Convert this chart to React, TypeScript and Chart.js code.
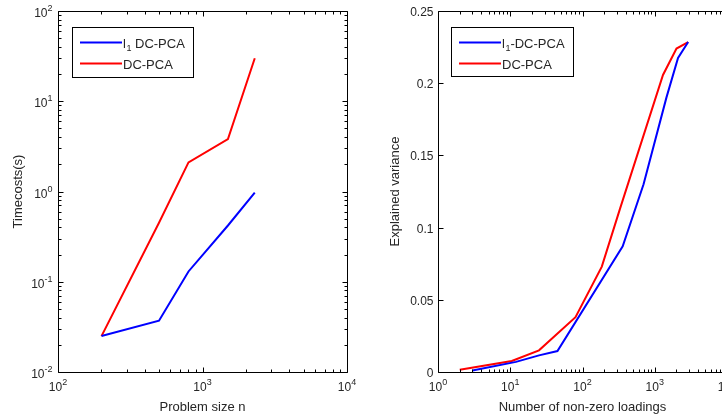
import React, { useEffect, useRef } from "react";
import { Chart, registerables } from "chart.js";
Chart.register(...registerables);

// ---------- data ----------
const problemSize = [200, 500, 800, 1500, 2300];
const l1TimeCost = [0.025, 0.037, 0.13, 0.42, 0.97];
const dcTimeCost = [0.025, 0.45, 2.1, 3.8, 30];

const l1NonZero = [3, 12, 25, 45, 360, 700, 1450, 2100, 2900];
const l1Variance = [0.001, 0.007, 0.0115, 0.0145, 0.087, 0.13, 0.19, 0.2175, 0.2285];
const dcNonZero = [2, 10.5, 25, 80, 185, 330, 1300, 2000, 2900];
const dcVariance = [0.0015, 0.0076, 0.015, 0.038, 0.073, 0.113, 0.2057, 0.224, 0.2285];

const leftXExps = [2, 3, 4];
const leftYExps = [-2, -1, 0, 1, 2];
const rightXExps = [0, 1, 2, 3, 4];
const rightYTicks = [0, 0.05, 0.1, 0.15, 0.2, 0.25];
const rightYLabels = ["0", "0.05", "0.1", "0.15", "0.2", "0.25"];

const leftLegend = [
  { main: "l", sub: "1", rest: " DC-PCA", color: "#0000ff" },
  { main: "DC-PCA", sub: "", rest: "", color: "#ff0000" },
];
const rightLegend = [
  { main: "l", sub: "1", rest: "-DC-PCA", color: "#0000ff" },
  { main: "DC-PCA", sub: "", rest: "", color: "#ff0000" },
];

const FONT = "'Liberation Sans', Arial, sans-serif";
const TICK = `12px ${FONT}`;
const EXP = `9px ${FONT}`;
const LABEL = `13px ${FONT}`;
const TXT = "#262626";

type AxisCfg = {
  xExps: number[];
  yLog: boolean;
  yExps?: number[];
  yTicks?: number[];
  yLabels?: string[];
  xTitle: string;
  yTitle: string;
  yTitleX: number;
  legend: { main: string; sub: string; rest: string; color: string }[];
  legendBox: { x: number; y: number; w: number; h: number };
};

function drawPow(ctx: CanvasRenderingContext2D, exp: number, x: number, baseline: number, align: "center" | "right") {
  const base = "10";
  const e = String(exp);
  ctx.font = TICK;
  const bw = ctx.measureText(base).width;
  ctx.font = EXP;
  const ew = ctx.measureText(e).width;
  const total = bw + ew;
  const left = align === "center" ? x - total / 2 : x - total;
  ctx.textAlign = "left";
  ctx.textBaseline = "alphabetic";
  ctx.font = TICK;
  ctx.fillText(base, left, baseline);
  ctx.font = EXP;
  ctx.fillText(e, left + bw, baseline - 6);
}

function makePlugin(cfg: AxisCfg) {
  return {
    id: "matlabAxes",
    afterDraw(chart: any) {
      const ctx: CanvasRenderingContext2D = chart.ctx;
      const a = chart.chartArea;
      const xs = chart.scales.x;
      const ys = chart.scales.y;
      const L = Math.round(a.left) + 0.5;
      const R = Math.round(a.right) + 0.5;
      const T = Math.round(a.top) + 0.5;
      const B = Math.round(a.bottom) + 0.5;
      ctx.save();
      ctx.fillStyle = TXT;
      ctx.strokeStyle = "#000";
      ctx.lineWidth = 1;
      ctx.beginPath();
      ctx.rect(L, T, R - L, B - T);
      ctx.stroke();

      // x ticks (log)
      ctx.beginPath();
      for (let i = 0; i < cfg.xExps.length; i++) {
        const e = cfg.xExps[i];
        const px = Math.round(xs.getPixelForValue(Math.pow(10, e))) + 0.5;
        ctx.moveTo(px, B); ctx.lineTo(px, B - 5);
        ctx.moveTo(px, T); ctx.lineTo(px, T + 5);
        if (i < cfg.xExps.length - 1) {
          for (let m = 2; m <= 9; m++) {
            const mx = Math.round(xs.getPixelForValue(m * Math.pow(10, e))) + 0.5;
            ctx.moveTo(mx, B); ctx.lineTo(mx, B - 3);
            ctx.moveTo(mx, T); ctx.lineTo(mx, T + 3);
          }
        }
      }
      // y ticks
      if (cfg.yLog && cfg.yExps) {
        for (let i = 0; i < cfg.yExps.length; i++) {
          const e = cfg.yExps[i];
          const py = Math.round(ys.getPixelForValue(Math.pow(10, e))) + 0.5;
          ctx.moveTo(L, py); ctx.lineTo(L + 5, py);
          ctx.moveTo(R, py); ctx.lineTo(R - 5, py);
          if (i < cfg.yExps.length - 1) {
            for (let m = 2; m <= 9; m++) {
              const my = Math.round(ys.getPixelForValue(m * Math.pow(10, e))) + 0.5;
              ctx.moveTo(L, my); ctx.lineTo(L + 3, my);
              ctx.moveTo(R, my); ctx.lineTo(R - 3, my);
            }
          }
        }
      } else if (cfg.yTicks) {
        for (const v of cfg.yTicks) {
          const py = Math.round(ys.getPixelForValue(v)) + 0.5;
          ctx.moveTo(L, py); ctx.lineTo(L + 5, py);
          ctx.moveTo(R, py); ctx.lineTo(R - 5, py);
        }
      }
      ctx.stroke();

      // x labels
      for (const e of cfg.xExps) {
        const px = xs.getPixelForValue(Math.pow(10, e));
        drawPow(ctx, e, px, B + 18, "center");
      }
      // y labels
      if (cfg.yLog && cfg.yExps) {
        for (const e of cfg.yExps) {
          const py = ys.getPixelForValue(Math.pow(10, e));
          drawPow(ctx, e, L - 6, py + 6, "right");
        }
      } else if (cfg.yTicks && cfg.yLabels) {
        ctx.font = TICK;
        ctx.textAlign = "right";
        ctx.textBaseline = "alphabetic";
        cfg.yTicks.forEach((v, i) => {
          const py = ys.getPixelForValue(v);
          ctx.fillText(cfg.yLabels![i], L - 5, py + 5);
        });
      }

      // titles
      ctx.font = LABEL;
      ctx.textAlign = "center";
      ctx.textBaseline = "alphabetic";
      ctx.fillText(cfg.xTitle, (a.left + a.right) / 2, 411);
      ctx.save();
      ctx.translate(cfg.yTitleX, (a.top + a.bottom) / 2);
      ctx.rotate(-Math.PI / 2);
      ctx.textBaseline = "middle";
      ctx.fillText(cfg.yTitle, 0, 0);
      ctx.restore();

      // legend
      const lb = cfg.legendBox;
      ctx.fillStyle = "#fff";
      ctx.fillRect(lb.x, lb.y, lb.w, lb.h);
      ctx.strokeStyle = "#000";
      ctx.lineWidth = 1;
      ctx.strokeRect(lb.x + 0.5, lb.y + 0.5, lb.w, lb.h);
      cfg.legend.forEach((it, i) => {
        const ly = lb.y + 15.5 + i * 21;
        ctx.strokeStyle = it.color;
        ctx.lineWidth = 2;
        ctx.beginPath();
        ctx.moveTo(lb.x + 8, ly);
        ctx.lineTo(lb.x + 50, ly);
        ctx.stroke();
        ctx.fillStyle = TXT;
        ctx.textAlign = "left";
        ctx.textBaseline = "alphabetic";
        let tx = lb.x + 51;
        const bl = ly + 5;
        ctx.font = LABEL;
        ctx.fillText(it.main, tx, bl);
        tx += ctx.measureText(it.main).width;
        if (it.sub) {
          ctx.font = EXP;
          ctx.fillText(it.sub, tx + 0.5, bl + 3);
          tx += ctx.measureText(it.sub).width + 0.5;
        }
        if (it.rest) {
          ctx.font = LABEL;
          ctx.fillText(it.rest, tx, bl);
        }
      });
      ctx.restore();
    },
  };
}

function Plot(props: {
  width: number;
  left: number;
  padding: { left: number; right: number; top: number; bottom: number };
  datasets: any[];
  xMin: number; xMax: number;
  yType: "logarithmic" | "linear"; yMin: number; yMax: number;
  cfg: AxisCfg;
}) {
  const ref = useRef<HTMLCanvasElement>(null);
  useEffect(() => {
    if (!ref.current) return;
    const chart = new Chart(ref.current, {
      type: "line",
      data: { datasets: props.datasets },
      options: {
        animation: false,
        responsive: false,
        devicePixelRatio: 1,
        layout: { padding: props.padding },
        plugins: { legend: { display: false }, tooltip: { enabled: false } },
        elements: { point: { radius: 0 }, line: { tension: 0 } },
        scales: {
          x: { type: "logarithmic", min: props.xMin, max: props.xMax, display: false },
          y: { type: props.yType, min: props.yMin, max: props.yMax, display: false },
        },
      },
      plugins: [makePlugin(props.cfg)],
    } as any);
    return () => chart.destroy();
  }, []);
  return (
    <canvas
      ref={ref}
      width={props.width}
      height={418}
      style={{ position: "absolute", left: props.left, top: 0, width: props.width, height: 418 }}
    />
  );
}

const toPts = (xs: number[], ys: number[]) => xs.map((x, i) => ({ x, y: ys[i] }));

export default function App() {
  const leftDatasets = [
    { label: "l1 DC-PCA", data: toPts(problemSize, l1TimeCost), borderColor: "#0000ff", borderWidth: 2 },
    { label: "DC-PCA", data: toPts(problemSize, dcTimeCost), borderColor: "#ff0000", borderWidth: 2 },
  ];
  const rightDatasets = [
    { label: "l1-DC-PCA", data: toPts(l1NonZero, l1Variance), borderColor: "#0000ff", borderWidth: 2 },
    { label: "DC-PCA", data: toPts(dcNonZero, dcVariance), borderColor: "#ff0000", borderWidth: 2 },
  ];
  return (
    <div style={{ position: "fixed", left: 0, top: 0, width: 722, height: 418, overflow: "hidden", background: "#fff" }}>
      <Plot
        width={360}
        left={0}
        padding={{ left: 58, right: 13, top: 11, bottom: 46 }}
        datasets={leftDatasets}
        xMin={100} xMax={10000}
        yType="logarithmic" yMin={0.01} yMax={100}
        cfg={{
          xExps: leftXExps, yLog: true, yExps: leftYExps,
          xTitle: "Problem size n", yTitle: "Timecosts(s)", yTitleX: 18,
          legend: leftLegend, legendBox: { x: 72, y: 27, w: 121, h: 50 },
        }}
      />
      <Plot
        width={370}
        left={370}
        padding={{ left: 68, right: 13, top: 11, bottom: 46 }}
        datasets={rightDatasets}
        xMin={1} xMax={10000}
        yType="linear" yMin={0} yMax={0.25}
        cfg={{
          xExps: rightXExps, yLog: false, yTicks: rightYTicks, yLabels: rightYLabels,
          xTitle: "Number of non-zero loadings", yTitle: "Explained variance", yTitleX: 25,
          legend: rightLegend, legendBox: { x: 81, y: 27, w: 122, h: 49 },
        }}
      />
    </div>
  );
}
